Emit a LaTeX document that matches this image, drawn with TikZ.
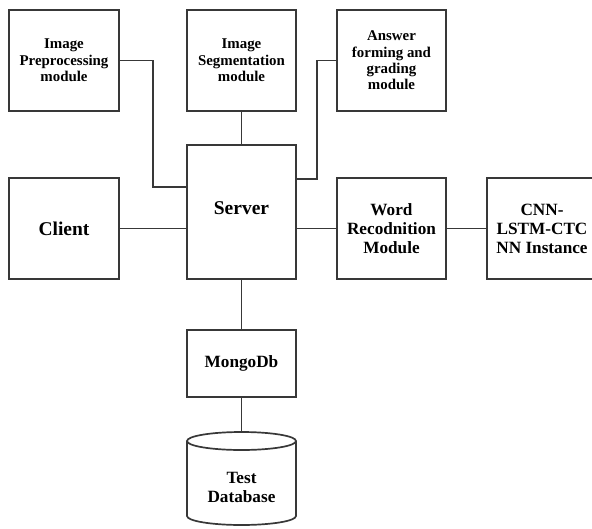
\documentclass[tikz,border=0pt]{standalone}
\usepackage{fontspec}
\setmainfont{Liberation Serif}
\begin{document}
\begin{tikzpicture}[x=1pt,y=-1pt,
  wire/.style={draw=black!78,line width=1.7pt},
  box/.style={wire,rectangle,inner sep=0pt,align=center,font=\bfseries},
  smalltext/.style={font=\bfseries\fontsize{14.9}{16.3}\selectfont},
  midtext/.style={font=\bfseries\fontsize{17.2}{19}\selectfont},
  bigtext/.style={font=\bfseries\fontsize{19.5}{21}\selectfont}]
\clip (0,0) rectangle (592,528);
\fill[white] (0,0) rectangle (592,528);

% module boxes
\node[box,smalltext,minimum width=110pt,minimum height=101pt] (pre) at (64,60.5) {Image\\Preprocessing\\module};
\node[box,smalltext,minimum width=109pt,minimum height=101pt] (seg) at (241.5,60.5) {Image\\Segmentation\\module};
\node[box,smalltext,minimum width=109pt,minimum height=101pt] (ans) at (391.5,60.5) {Answer\\forming and\\grading\\module};
\node[box,bigtext,minimum width=110pt,minimum height=101pt] (client) at (64,228.5) {Client};
\node[box,minimum width=109pt,minimum height=134pt] (server) at (241.5,212) {};
\node[bigtext] (servertext) at (241.5,208) {Server};
\node[box,midtext,minimum width=109pt,minimum height=101pt] (word) at (391.5,228.5) {Word\\Recodnition\\Module};
\node[box,midtext,minimum width=110pt,minimum height=101pt] (cnn) at (542,228.5) {CNN-\\LSTM-CTC\\NN Instance};
\node[box,midtext,minimum width=109pt,minimum height=67pt] (mongo) at (241.5,363.5) {MongoDb};

% database cylinder
\draw[wire] (241.5,441) ellipse [x radius=54.5pt, y radius=9pt];
\draw[wire] (187,441) -- (187,516) arc[start angle=180,end angle=360,x radius=54.5pt,y radius=9pt] -- (296,441);
\coordinate (dbtop) at (241.5,432);
\node[midtext,align=center] (db) at (241.5,487.5) {Test\\Database};

% connectors
\coordinate (k1) at (153,187);
\coordinate (k2) at (317,179);
\draw[wire] (pre.east) -| (k1) -- (k1 -| server.west);
\draw[wire] (ans.west) -| (k2) -- (k2 -| server.east);
\draw[wire] (seg.south) -- (server.north);
\draw[wire] (client.east) -- (client.east -| server.west);
\draw[wire] (word.west -| server.east) -- (word.west);
\draw[wire] (word.east) -- (cnn.west);
\draw[wire] (server.south) -- (mongo.north);
\draw[wire] (mongo.south) -- (dbtop);
\end{tikzpicture}
\end{document}
